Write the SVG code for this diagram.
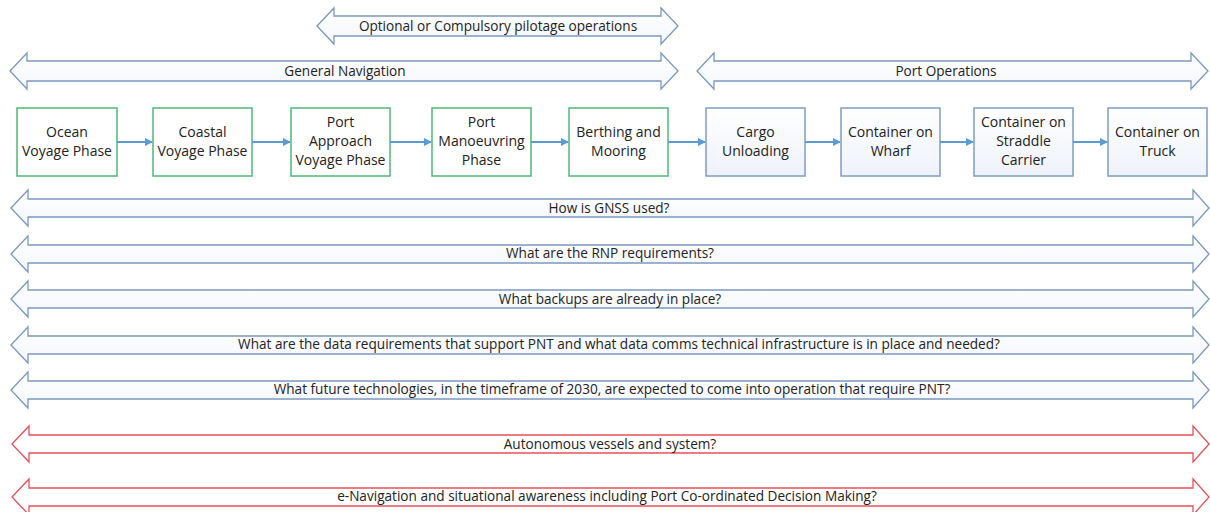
<svg xmlns="http://www.w3.org/2000/svg" width="1210" height="512" viewBox="0 0 1210 512">
<style>
text{font-family:"Open Sans","Liberation Sans",Arial,sans-serif;fill:#222;text-anchor:middle}
.lbl{font-size:13.6px}
.box text{font-size:14px}
.g rect{fill:#fff;stroke:#4fb877;stroke-width:1.5}
.b rect{fill:url(#bg);stroke:#7f9cc4;stroke-width:1.5}
.ba{fill:url(#ag);stroke:#7b98bf;stroke-width:1.3}
.ra{fill:#fff;stroke:#e9505a;stroke-width:1.3}
.conn line{stroke:#5b9bd5;stroke-width:2;marker-end:url(#ah)}
</style>
<defs>
<linearGradient id="bg" x1="0" y1="0" x2="0" y2="1"><stop offset="0" stop-color="#ffffff"/><stop offset="1" stop-color="#eef2f9"/></linearGradient>
<linearGradient id="ag" x1="0" y1="0" x2="0" y2="1"><stop offset="0" stop-color="#ffffff"/><stop offset="1" stop-color="#f3f6fb"/></linearGradient>
<marker id="ah" markerWidth="8" markerHeight="8" refX="7" refY="4" orient="auto" markerUnits="userSpaceOnUse"><path d="M0,0 L8,4 L0,8 Z" fill="#5b9bd5"/></marker>
</defs>
<rect width="1210" height="512" fill="#fff"/>

<g id="pilotage"><path class="ba" d="M317,26 L334,8 L334,16 L661,16 L661,8 L678,26 L661,44 L661,36 L334,36 L334,44 Z"/><text class="lbl" x="498" y="31">Optional or Compulsory pilotage operations</text></g>
<g id="general-navigation"><path class="ba" d="M10,71 L27,53 L27,61 L661,61 L661,53 L678,71 L661,89 L661,81 L27,81 L27,89 Z"/><text class="lbl" x="345" y="76">General Navigation</text></g>
<g id="port-operations"><path class="ba" d="M697,71 L714,53 L714,61 L1191,61 L1191,53 L1208,71 L1191,89 L1191,81 L714,81 L714,89 Z"/><text class="lbl" x="946" y="76">Port Operations</text></g>

<g class="box g" id="ocean"><rect x="17" y="108" width="100" height="68"/><text x="67" y="137">Ocean</text><text x="67" y="156">Voyage Phase</text></g>
<g class="box g" id="coastal"><rect x="153" y="108" width="99" height="68"/><text x="202.5" y="137">Coastal</text><text x="202.5" y="156">Voyage Phase</text></g>
<g class="box g" id="approach"><rect x="291" y="108" width="99" height="68"/><text x="340.5" y="127">Port</text><text x="340.5" y="146">Approach</text><text x="340.5" y="165">Voyage Phase</text></g>
<g class="box g" id="manoeuvring"><rect x="432" y="108" width="99" height="68"/><text x="481.5" y="127">Port</text><text x="481.5" y="146">Manoeuvring</text><text x="481.5" y="165">Phase</text></g>
<g class="box g" id="berthing"><rect x="569" y="108" width="99" height="68"/><text x="618.5" y="137">Berthing and</text><text x="618.5" y="156">Mooring</text></g>
<g class="box b" id="cargo"><rect x="706" y="108" width="99" height="68"/><text x="755.5" y="137">Cargo</text><text x="755.5" y="156">Unloading</text></g>
<g class="box b" id="wharf"><rect x="841" y="108" width="99" height="68"/><text x="890.5" y="137">Container on</text><text x="890.5" y="156">Wharf</text></g>
<g class="box b" id="straddle"><rect x="974" y="108" width="99" height="68"/><text x="1023.5" y="127">Container on</text><text x="1023.5" y="146">Straddle</text><text x="1023.5" y="165">Carrier</text></g>
<g class="box b" id="truck"><rect x="1108" y="108" width="99" height="68"/><text x="1157.5" y="137">Container on</text><text x="1157.5" y="156">Truck</text></g>

<g class="conn" id="connectors">
<line x1="117" y1="142" x2="152" y2="142"/>
<line x1="252" y1="142" x2="290" y2="142"/>
<line x1="390" y1="142" x2="431" y2="142"/>
<line x1="531" y1="142" x2="568" y2="142"/>
<line x1="668" y1="142" x2="705" y2="142"/>
<line x1="805" y1="142" x2="840" y2="142"/>
<line x1="940" y1="142" x2="973" y2="142"/>
<line x1="1073" y1="142" x2="1107" y2="142"/>
</g>

<g id="gnss"><path class="ba" d="M11,208 L28,190 L28,199 L1193,199 L1193,190 L1209,208 L1193,226 L1193,217 L28,217 L28,226 Z"/><text class="lbl" x="609" y="213">How is GNSS used?</text></g>
<g id="rnp"><path class="ba" d="M11,254 L28,236 L28,245 L1193,245 L1193,236 L1209,254 L1193,272 L1193,263 L28,263 L28,272 Z"/><text class="lbl" x="610" y="258">What are the RNP requirements?</text></g>
<g id="backups"><path class="ba" d="M11,299 L28,281 L28,290 L1193,290 L1193,281 L1209,299 L1193,317 L1193,308 L28,308 L28,317 Z"/><text class="lbl" x="610" y="304">What backups are already in place?</text></g>
<g id="data"><path class="ba" d="M11,345 L28,327 L28,336 L1193,336 L1193,327 L1209,345 L1193,363 L1193,354 L28,354 L28,363 Z"/><text class="lbl" x="619" y="349">What are the data requirements that support PNT and what data comms technical infrastructure is in place and needed?</text></g>
<g id="future"><path class="ba" d="M11,390 L28,372 L28,381 L1193,381 L1193,372 L1209,390 L1193,408 L1193,399 L28,399 L28,408 Z"/><text class="lbl" x="612" y="394">What future technologies, in the timeframe of 2030, are expected to come into operation that require PNT?</text></g>
<g id="autonomous"><path class="ra" d="M12,444 L29,426 L29,435 L1193,435 L1193,426 L1209,444 L1193,462 L1193,453 L29,453 L29,462 Z"/><text class="lbl" x="610" y="449">Autonomous vessels and system?</text></g>
<g id="enavigation"><path class="ra" d="M12,497 L29,479 L29,488 L1193,488 L1193,479 L1209,497 L1193,515 L1193,506 L29,506 L29,515 Z"/><text class="lbl" x="607" y="501">e-Navigation and situational awareness including Port Co-ordinated Decision Making?</text></g>
</svg>
